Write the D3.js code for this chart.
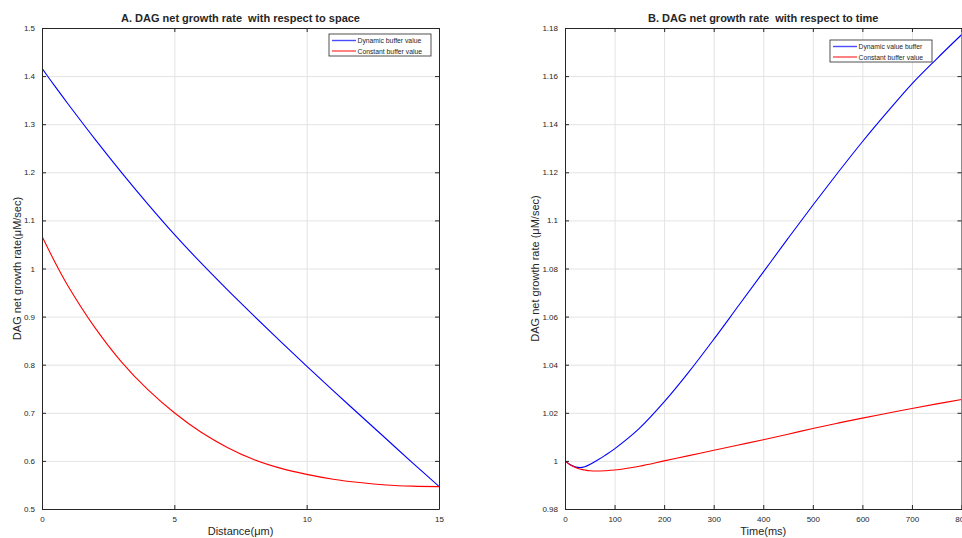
<!DOCTYPE html>
<html><head><meta charset="utf-8">
<script src="https://cdn.jsdelivr.net/npm/d3@7"></script>
<style>
html,body{margin:0;padding:0;background:#fff;overflow:hidden}
svg{display:block}
text{font-family:"Liberation Sans",Arial,Helvetica,sans-serif;fill:#262626;white-space:pre}
</style></head>
<body>
<svg id="chart" width="962" height="538"></svg>
<script>
// ---- Panel A data (distance, µm) ----
const spaceX = [0, 0.5, 1, 2, 3, 4, 5, 6, 7, 8, 9, 10, 11, 12, 13, 14, 15];
const spaceDynamic = [1.416, 1.378, 1.341, 1.269, 1.200, 1.134, 1.071, 1.012, 0.956, 0.902, 0.849, 0.797, 0.746, 0.696, 0.646, 0.596, 0.547];
const spaceConstant = [1.067, 1.012, 0.962, 0.877, 0.806, 0.748, 0.700, 0.660, 0.628, 0.603, 0.585, 0.572, 0.562, 0.555, 0.550, 0.5475, 0.5466];
const spaceXTicks = [0, 5, 10, 15];
const spaceYTicks = [0.5, 0.6, 0.7, 0.8, 0.9, 1, 1.1, 1.2, 1.3, 1.4, 1.5];

// ---- Panel B data (time, ms) ----
const timeX = [0, 10, 20, 30, 40, 50, 65, 80, 100, 150, 200, 250, 300, 350, 400, 450, 500, 550, 600, 650, 700, 750, 800];
const timeDynamic = [1.0, 0.9985, 0.9976, 0.99725, 0.9976, 0.9985, 1.0003, 1.0022, 1.0050, 1.0135, 1.0245, 1.0370, 1.0505, 1.0645, 1.0785, 1.0925, 1.1063, 1.1197, 1.1327, 1.1450, 1.1568, 1.1672, 1.1772];
const timeConstant = [1.0, 0.9984, 0.9974, 0.9966, 0.9962, 0.9959, 0.9958, 0.9959, 0.9962, 0.9978, 1.0, 1.0022, 1.0044, 1.0066, 1.0088, 1.0111, 1.0135, 1.0157, 1.0178, 1.0198, 1.0218, 1.0237, 1.0255];
const timeXTicks = [0, 100, 200, 300, 400, 500, 600, 700, 800];
const timeYTicks = [0.98, 1, 1.02, 1.04, 1.06, 1.08, 1.1, 1.12, 1.14, 1.16, 1.18];

const svg = d3.select("#chart");

function panel(cfg) {
  const x = d3.scaleLinear().domain(cfg.xDomain).range([cfg.left, cfg.right]);
  const y = d3.scaleLinear().domain(cfg.yDomain).range([cfg.bottom, cfg.top]);
  const g = svg.append("g");
  const w = cfg.right - cfg.left, h = cfg.bottom - cfg.top;

  // grid
  g.append("g").attr("transform", `translate(0,${cfg.bottom})`)
    .call(d3.axisBottom(x).tickValues(cfg.xTicks).tickSize(-h).tickFormat(""))
    .call(s => { s.select(".domain").remove(); s.selectAll("line").attr("stroke", "#e3e3e3").attr("stroke-width", 1); });
  g.append("g").attr("transform", `translate(${cfg.left},0)`)
    .call(d3.axisLeft(y).tickValues(cfg.yTicks).tickSize(-w).tickFormat(""))
    .call(s => { s.select(".domain").remove(); s.selectAll("line").attr("stroke", "#e3e3e3").attr("stroke-width", 1); });

  // lines
  const clipId = "clip" + cfg.id;
  svg.append("clipPath").attr("id", clipId).append("rect")
    .attr("x", cfg.left).attr("y", cfg.top).attr("width", w).attr("height", h);
  const line = (ys) => d3.line().x((d, i) => x(cfg.xs[i])).y(d => y(d)).curve(d3.curveCatmullRom.alpha(0.5))(ys);
  g.append("path").attr("d", line(cfg.dyn)).attr("fill", "none").attr("stroke", "#0000ff").attr("stroke-width", 1.1).attr("clip-path", `url(#${clipId})`);
  g.append("path").attr("d", line(cfg.con)).attr("fill", "none").attr("stroke", "#ff0000").attr("stroke-width", 1.1).attr("clip-path", `url(#${clipId})`);

  // axes (ticks inward, box)
  const tk = 4;
  const styleAxis = s => { s.select(".domain").attr("stroke", "#262626").attr("stroke-width", 1); s.selectAll(".tick line").attr("stroke", "#262626"); s.selectAll("text").attr("font-size", 8).attr("fill", "#262626"); };
  g.append("g").attr("transform", `translate(0,${cfg.bottom})`)
    .call(d3.axisBottom(x).tickValues(cfg.xTicks).tickSizeInner(-tk).tickSizeOuter(0).tickPadding(7).tickFormat(d3.format("")))
    .call(styleAxis);
  g.append("g").attr("transform", `translate(0,${cfg.top})`)
    .call(d3.axisTop(x).tickValues(cfg.xTicks).tickSizeInner(-tk).tickSizeOuter(0).tickFormat(""))
    .call(styleAxis);
  g.append("g").attr("transform", `translate(${cfg.left},0)`)
    .call(d3.axisLeft(y).tickValues(cfg.yTicks).tickSizeInner(-tk).tickSizeOuter(0).tickPadding(7).tickFormat(d3.format("")))
    .call(styleAxis);
  g.append("g").attr("transform", `translate(${cfg.right},0)`)
    .call(d3.axisRight(y).tickValues(cfg.yTicks).tickSizeInner(-tk).tickSizeOuter(0).tickFormat(""))
    .call(styleAxis);

  // title
  g.append("text").attr("x", (cfg.left + cfg.right) / 2).attr("y", 22).attr("text-anchor", "middle")
    .attr("font-size", 11).attr("font-weight", "bold").attr("fill", "#000").text(cfg.title);
  // x label
  g.append("text").attr("x", (cfg.left + cfg.right) / 2).attr("y", 535).attr("text-anchor", "middle")
    .attr("font-size", 11).text(cfg.xLabel);
  // y label
  g.append("text").attr("transform", `translate(${cfg.yLabelX},${(cfg.top + cfg.bottom) / 2}) rotate(-90)`)
    .attr("text-anchor", "middle").attr("font-size", 11).text(cfg.yLabel);

  // legend
  const L = cfg.legend;
  const lg = g.append("g");
  lg.append("rect").attr("x", L.x).attr("y", L.y).attr("width", L.w).attr("height", 22)
    .attr("fill", "#fff").attr("stroke", "#262626").attr("stroke-width", 0.8);
  [["#0000ff", cfg.names[0]], ["#ff0000", cfg.names[1]]].forEach(([c, t], i) => {
    const yy = L.y + 6.5 + i * 10.5;
    lg.append("line").attr("x1", L.x + 3).attr("x2", L.x + 27).attr("y1", yy).attr("y2", yy).attr("stroke", c).attr("stroke-opacity", 0.7).attr("stroke-width", 1.4);
    lg.append("text").attr("x", L.x + 28.5).attr("y", yy + 2.5).attr("font-size", 6.8).text(t);
  });
}

panel({
  id: "A", left: 42, right: 439, top: 28, bottom: 509,
  xDomain: [0, 15], yDomain: [0.5, 1.5],
  xTicks: spaceXTicks, yTicks: spaceYTicks,
  xs: spaceX, dyn: spaceDynamic, con: spaceConstant,
  title: "A. DAG net growth rate  with respect to space",
  xLabel: "Distance(μm)", yLabel: "DAG net growth rate(μM/sec)", yLabelX: 21,
  names: ["Dynamic buffer value", "Constant buffer value"],
  legend: { x: 329, y: 34, w: 102 }
});
panel({
  id: "B", left: 565, right: 961.5, top: 28, bottom: 509,
  xDomain: [0, 800], yDomain: [0.98, 1.18],
  xTicks: timeXTicks, yTicks: timeYTicks,
  xs: timeX, dyn: timeDynamic, con: timeConstant,
  title: "B. DAG net growth rate  with respect to time",
  xLabel: "Time(ms)", yLabel: "DAG net growth rate (μM/sec)", yLabelX: 539,
  names: ["Dynamic value buffer", "Constant buffer value"],
  legend: { x: 830, y: 40, w: 102 }
});
</script>
</body></html>
